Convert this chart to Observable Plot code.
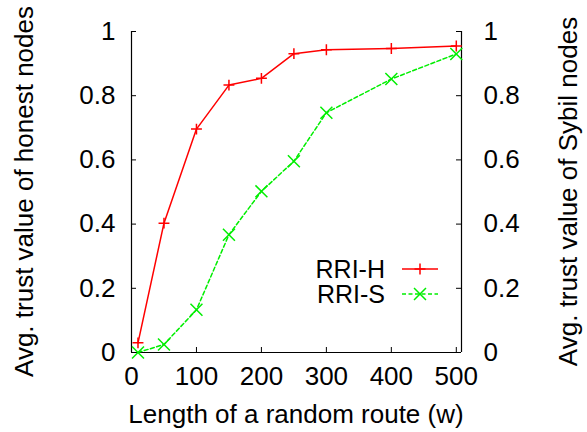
<!DOCTYPE html>
<html>
<head>
<meta charset="utf-8">
<script src="https://cdn.jsdelivr.net/npm/d3@7"></script>
<script src="https://cdn.jsdelivr.net/npm/@observablehq/plot@0.6"></script>
<style>
  html, body { margin: 0; padding: 0; background: #fff; }
  svg { display: block; }
</style>
</head>
<body>
<div id="chart"></div>
<script>
// Data
const routeLength = [10, 50, 100, 150, 200, 250, 300, 400, 500];
const honestTrust = [0.03, 0.403, 0.696, 0.833, 0.854, 0.931, 0.943, 0.947, 0.955];
const sybilTrust  = [0.0, 0.025, 0.133, 0.367, 0.502, 0.596, 0.747, 0.852, 0.93];
const seriesNames = ["RRI-H", "RRI-S"];
const xTicks = [0, 100, 200, 300, 400, 500];
const yTicks = [0, 0.2, 0.4, 0.6, 0.8, 1];
const yTickLabels = ["0", "0.2", "0.4", "0.6", "0.8", "1"];
const xTickLabels = ["0", "100", "200", "300", "400", "500"];
const xDomain = [0, 508];
const yDomain = [0, 1];
const xTitle = "Length of a random route (w)";
const yTitleLeft = "Avg. trust value of honest nodes";
const yTitleRight = "Avg. trust value of Sybil nodes";

const W = 587, H = 432;
const mL = 131, mR = 126, mT = 31, mB = 80;
const pw = W - mL - mR, ph = H - mT - mB;
const FS = 26;
const RED = "#ff0000", GREEN = "#00ee00";
const font = "'Liberation Sans', Arial, Helvetica, sans-serif";

const H_data = routeLength.map((x, i) => ({x, y: honestTrust[i]}));
const S_data = routeLength.map((x, i) => ({x, y: sybilTrust[i]}));

const svg = Plot.plot({
  width: W, height: H,
  marginLeft: mL, marginRight: mR, marginTop: mT, marginBottom: mB,
  style: {fontFamily: font, fontSize: FS + "px", background: "#fff", color: "#000"},
  x: {domain: xDomain},
  y: {domain: yDomain},
  marks: [
    // tick labels
    Plot.axisY({anchor: "left", ticks: yTicks, tickSize: 0, tickPadding: 16,
      tickFormat: d => yTickLabels[yTicks.indexOf(d)], fontSize: FS, label: null}),
    Plot.axisY({anchor: "right", ticks: yTicks, tickSize: 0, tickPadding: 22,
      tickFormat: d => yTickLabels[yTicks.indexOf(d)], fontSize: FS, label: null}),
    Plot.axisX({anchor: "bottom", ticks: xTicks, tickSize: 0, tickPadding: 14,
      tickFormat: d => xTickLabels[xTicks.indexOf(d)], fontSize: FS, label: null}),
    // inward ticks
    Plot.tickY(yTicks, {y: d => d, insetRight: pw - 5, stroke: "#000"}),
    Plot.tickY(yTicks, {y: d => d, insetLeft: pw - 5, stroke: "#000"}),
    Plot.tickX(xTicks, {x: d => d, insetTop: ph - 5, stroke: "#000"}),
    // border (left, right, bottom)
    Plot.ruleX(xDomain, {stroke: "#000", strokeWidth: 1.2}),
    Plot.ruleY([yDomain[0]], {stroke: "#000", strokeWidth: 1.2}),
    // series
    Plot.line(H_data, {x: "x", y: "y", stroke: RED, strokeWidth: 1.5}),
    Plot.dot(H_data, {x: "x", y: "y", symbol: "plus", r: 3.6, stroke: RED, strokeWidth: 1.5}),
    Plot.line(S_data, {x: "x", y: "y", stroke: GREEN, strokeWidth: 1.5, strokeDasharray: "4,2.5"}),
    Plot.dot(S_data, {x: "x", y: "y", symbol: "times", r: 5.5, stroke: GREEN, strokeWidth: 1.5})
  ]
});

const root = d3.select(svg);
// Axis titles (layout in pixels)
const tg = root.append("g").attr("font-family", font).attr("font-size", FS).attr("fill", "#000")
  .attr("text-anchor", "middle");
tg.append("text").attr("x", mL + pw / 2).attr("y", 423).text(xTitle);
tg.append("text").attr("transform", `translate(33,${mT + ph / 2}) rotate(-90)`).text(yTitleLeft);
tg.append("text").attr("transform", `translate(577,${mT + ph / 2}) rotate(-90)`).text(yTitleRight);

// Legend (layout in pixels)
const lg = root.append("g").attr("font-family", font).attr("font-size", 25);
const legendItems = [
  {name: seriesNames[0], color: RED, dash: null, sym: d3.symbolPlus, size: 41.5, y: 269},
  {name: seriesNames[1], color: GREEN, dash: "4,2.5", sym: d3.symbolTimes, size: 95, y: 294}
];
for (const it of legendItems) {
  lg.append("text").attr("x", 385).attr("y", it.y).attr("dy", "0.35em")
    .attr("text-anchor", "end").attr("fill", "#000").text(it.name);
  lg.append("line").attr("x1", 402).attr("x2", 438).attr("y1", it.y).attr("y2", it.y)
    .attr("stroke", it.color).attr("stroke-width", 1.5)
    .attr("stroke-dasharray", it.dash);
  lg.append("path").attr("transform", `translate(420,${it.y})`)
    .attr("d", d3.symbol(it.sym, it.size)()).attr("fill", "none")
    .attr("stroke", it.color).attr("stroke-width", 1.5);
}

document.getElementById("chart").appendChild(svg);
</script>
</body>
</html>
